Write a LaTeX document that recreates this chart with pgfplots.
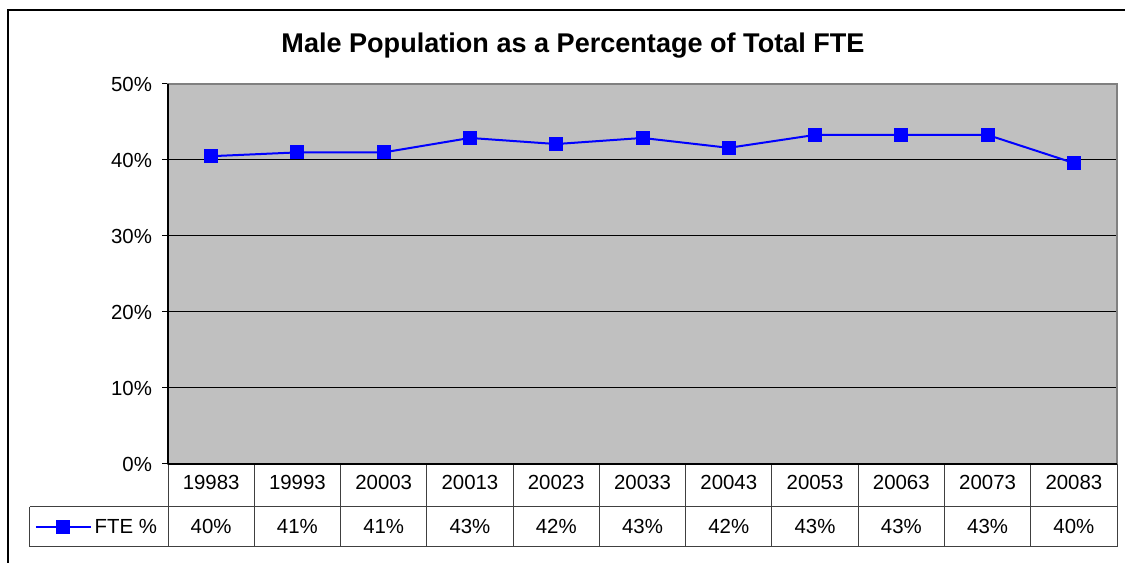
\documentclass[border=0pt]{standalone}
\usepackage{pgfplots}
\pgfplotsset{compat=1.18}
\usepackage{fontspec}
\setmainfont{Liberation Sans}
\definecolor{plotgray}{RGB}{192,192,192}
\definecolor{bordergray}{RGB}{128,128,128}
\begin{document}
\begin{tikzpicture}
\path[use as bounding box] (0,0) rectangle (843.75pt,422.25pt);
\draw[black, line width=0.8pt] (6pt,-2pt) -- (6pt,414.75pt) -- (846pt,414.75pt);
\node[anchor=base, font=\bfseries\fontsize{20.3}{23}\selectfont] at (429.75pt,382.5pt) {Male Population as a Percentage of Total FTE};
\begin{axis}[
  at={(126pt,74.25pt)}, anchor=south west,
  width=711.75pt, height=285pt, scale only axis,
  xmin=-0.5, xmax=10.5, ymin=0, ymax=50,
  axis background/.style={fill=plotgray},
  axis line style={bordergray, line width=1.1pt},
  clip=false,
  ytick={0,10,20,30,40,50},
  yticklabels={0\%,10\%,20\%,30\%,40\%,50\%},
  ytick pos=left,
  tick align=outside,
  major tick length=4.5pt,
  ytick style={black, line width=0.75pt},
  ymajorgrids,
  grid style={black, line width=0.75pt},
  xtick={0,...,10},
  xticklabels={19983,19993,20003,20013,20023,20033,20043,20053,20063,20073,20083},
  xtick style={draw=none},
  xticklabel style={anchor=base, yshift=-15pt, inner sep=0pt},
  tick label style={font=\fontsize{15.3}{18}\selectfont},
  yticklabel style={xshift=-4pt},
  legend style={at={(axis description cs:-0.1405,-0.1658)}, anchor=west, draw=none, fill=none, font=\fontsize{15.3}{18}\selectfont, inner sep=0pt},
  legend image code/.code={\draw[#1, mark repeat=2, mark phase=2] plot coordinates {(0pt,0pt) (20.6pt,0pt) (41.25pt,0pt)};},
]
\addplot[blue, line width=1.5pt, mark=square*, mark size=4.5pt, mark options={fill=blue, draw=blue}]
  coordinates {(0,40.5) (1,41.0) (2,41.0) (3,42.9) (4,42.1) (5,42.9) (6,41.6) (7,43.3) (8,43.3) (9,43.3) (10,39.6)};
\addlegendentry{FTE \%}
% data table grid
\draw[black!75, line width=0.75pt] (axis cs:-2.1,-5.62) -- (axis cs:10.5,-5.62);
\draw[black!75, line width=0.75pt] (axis cs:-2.1,-10.88) -- (axis cs:10.5,-10.88);
\draw[black!75, line width=0.75pt] (axis cs:-2.1,-5.62) -- (axis cs:-2.1,-10.88);
\pgfplotsinvokeforeach{-0.5,0.5,1.5,2.5,3.5,4.5,5.5,6.5,7.5,8.5,9.5,10.5}{
  \draw[black!75, line width=0.75pt] (axis cs:#1,0) -- (axis cs:#1,-10.88);
}
\draw[black, line width=0.9pt] (axis cs:-0.5,0) -- (axis cs:10.5,0);
\draw[black, line width=0.9pt] (axis cs:-0.5,0) -- (axis cs:-0.5,50);
\node[anchor=base, font=\fontsize{15.3}{18}\selectfont, inner sep=0pt] at (axis cs:0,-9.21) {40\%};
\node[anchor=base, font=\fontsize{15.3}{18}\selectfont, inner sep=0pt] at (axis cs:1,-9.21) {41\%};
\node[anchor=base, font=\fontsize{15.3}{18}\selectfont, inner sep=0pt] at (axis cs:2,-9.21) {41\%};
\node[anchor=base, font=\fontsize{15.3}{18}\selectfont, inner sep=0pt] at (axis cs:3,-9.21) {43\%};
\node[anchor=base, font=\fontsize{15.3}{18}\selectfont, inner sep=0pt] at (axis cs:4,-9.21) {42\%};
\node[anchor=base, font=\fontsize{15.3}{18}\selectfont, inner sep=0pt] at (axis cs:5,-9.21) {43\%};
\node[anchor=base, font=\fontsize{15.3}{18}\selectfont, inner sep=0pt] at (axis cs:6,-9.21) {42\%};
\node[anchor=base, font=\fontsize{15.3}{18}\selectfont, inner sep=0pt] at (axis cs:7,-9.21) {43\%};
\node[anchor=base, font=\fontsize{15.3}{18}\selectfont, inner sep=0pt] at (axis cs:8,-9.21) {43\%};
\node[anchor=base, font=\fontsize{15.3}{18}\selectfont, inner sep=0pt] at (axis cs:9,-9.21) {43\%};
\node[anchor=base, font=\fontsize{15.3}{18}\selectfont, inner sep=0pt] at (axis cs:10,-9.21) {40\%};
\end{axis}
\end{tikzpicture}
\end{document}
